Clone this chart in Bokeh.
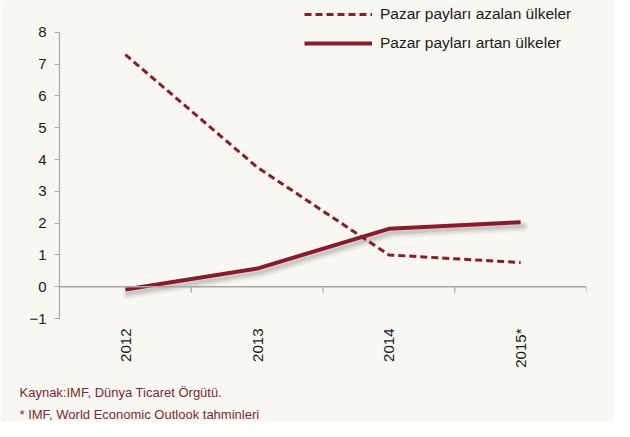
import math
from bokeh.plotting import figure
from bokeh.models import (Range1d, LinearAxis, FixedTicker, Span, Legend, LegendItem, Title)
from bokeh.embed import file_html
from bokeh.resources import INLINE

years = ["2012", "2013", "2014", "2015*"]
azalan = [7.3, 3.76, 1.0, 0.76]      # Pazar payları azalan ülkeler
artan = [-0.09, 0.57, 1.82, 2.03]     # Pazar payları artan ülkeler
y_ticks = [-1, 0, 1, 2, 3, 4, 5, 6, 7, 8]
label_azalan = "Pazar payları azalan ülkeler"
label_artan = "Pazar payları artan ülkeler"
note1 = "Kaynak:IMF, Dünya Ticaret Örgütü."
note2 = "* IMF, World Economic Outlook tahminleri"

BG = "#f8f7f2"
RED = "#8a1b2d"
GRAY = "#a8a8a8"
FONT = "Liberation Sans"

W, H = 614, 421
LEFT, RIGHT, BOTTOM = 59, 28, 102
AXIS_TOP_PX = 32          # pixel position of the top tick (8) from the top of the canvas
frame_h = H - BOTTOM
px_per_unit = (frame_h - AXIS_TOP_PX) / (y_ticks[-1] - y_ticks[0])
y_end = y_ticks[-1] + AXIS_TOP_PX / px_per_unit

xs = [i + 0.5 for i in range(len(years))]
bounds = list(range(1, len(years) + 1))

p = figure(width=W, height=H, output_backend="svg", toolbar_location=None,
           x_range=Range1d(0, len(years)), y_range=Range1d(y_ticks[0], y_end),
           x_axis_location=None, y_axis_location=None,
           min_border_left=LEFT, min_border_right=RIGHT, min_border_top=0,
           min_border_bottom=BOTTOM)
p.background_fill_color = BG
p.border_fill_color = BG
p.outline_line_color = None
p.xgrid.visible = False
p.ygrid.visible = False

# y axis
yax = LinearAxis(ticker=FixedTicker(ticks=y_ticks), bounds=(y_ticks[0], y_ticks[-1]))
yax.axis_line_color = GRAY
yax.axis_line_width = 1.2
yax.major_tick_line_color = GRAY
yax.major_tick_out = 5
yax.major_tick_in = 0
yax.minor_tick_line_color = None
yax.major_label_text_font = FONT
yax.major_label_text_font_size = "15px"
yax.major_label_text_color = "#1a1a1a"
yax.major_label_standoff = 8
p.add_layout(yax, "left")

# x axis (labels only)
xax = LinearAxis(ticker=FixedTicker(ticks=xs),
                 major_label_overrides={x: y for x, y in zip(xs, years)})
xax.axis_line_color = None
xax.major_tick_line_color = None
xax.major_tick_out = 0
xax.major_tick_in = 0
xax.minor_tick_line_color = None
xax.major_label_orientation = math.pi / 2
xax.major_label_text_font = FONT
xax.major_label_text_font_size = "15px"
xax.major_label_text_color = "#1a1a1a"
xax.major_label_standoff = 10
p.add_layout(xax, "below")

# zero line with category boundary ticks
p.add_layout(Span(location=0, dimension="width", line_color=GRAY, line_width=1.5))
tick_len = 6 / px_per_unit
p.segment(x0=bounds, y0=[0] * len(bounds), x1=bounds, y1=[-tick_len] * len(bounds),
          line_color=GRAY, line_width=1.2)

# soft shadow for the solid line
shadow_off = 4 / px_per_unit
shadow_y = [v - shadow_off for v in artan]
for w, a in [(12, 0.04), (9, 0.06), (6, 0.09), (3, 0.12)]:
    p.line([x + 0.02 for x in xs], shadow_y, line_color="#555555", line_width=w,
           line_alpha=a, line_cap="round", line_join="round")

r1 = p.line(xs, azalan, line_color=RED, line_width=3, line_dash="7 4")
r2 = p.line(xs, artan, line_color=RED, line_width=4, line_join="round")

legend = Legend(items=[LegendItem(label=label_azalan, renderers=[r1]),
                       LegendItem(label=label_artan, renderers=[r2])],
                location=(245, frame_h - 54), orientation="vertical")
legend.background_fill_alpha = 0
legend.border_line_alpha = 0
legend.padding = 0
legend.margin = 0
legend.spacing = 9
legend.glyph_width = 68
legend.glyph_height = 20
legend.label_height = 20
legend.label_standoff = 8
legend.label_text_font = FONT
legend.label_text_font_size = "15.5px"
legend.label_text_color = "#1a1a1a"
p.add_layout(legend, "center")

# spacer between the year labels and the footnotes
p.add_layout(Title(text=" ", text_font_size="1px", standoff=5), "below")
for txt, so in [(note1, 9), (note2, 0)]:
    p.add_layout(Title(text=txt, align="left", offset=-40, standoff=so,
                       text_font=FONT, text_font_size="13px", text_font_style="normal",
                       text_color="#7a2a33"), "below")

open("out.html", "w").write(file_html(p, INLINE))
